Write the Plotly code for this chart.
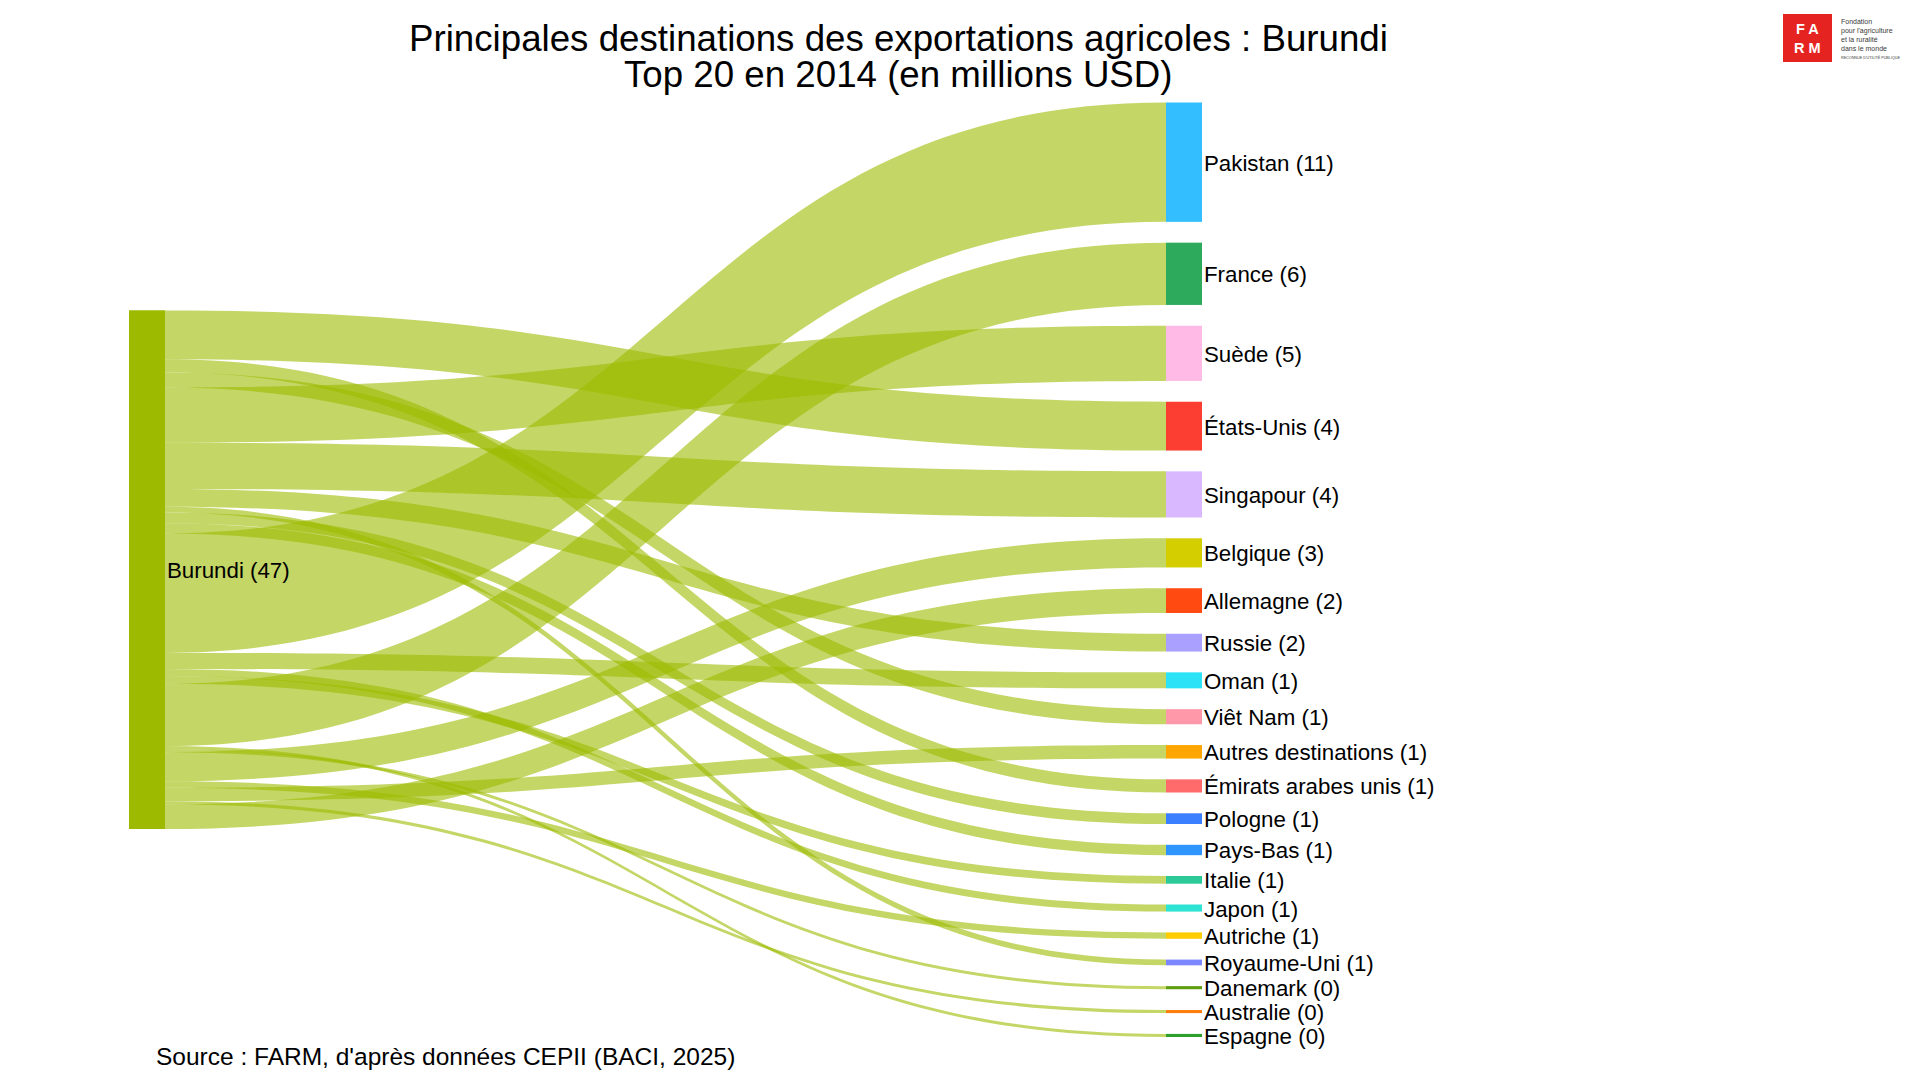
import plotly.graph_objects as go

# ---------------- data ----------------
source_label = "Burundi"
destinations = ["Pakistan", "France", "Suède", "États-Unis", "Singapour", "Belgique",
                "Allemagne", "Russie", "Oman", "Viêt Nam", "Autres destinations",
                "Émirats arabes unis", "Pologne", "Pays-Bas", "Italie", "Japon",
                "Autriche", "Royaume-Uni", "Danemark", "Australie", "Espagne"]
values = [10.81, 5.64, 5.00, 4.42, 4.18, 2.64, 2.24, 1.61, 1.45, 1.37, 1.22,
          1.19, 0.97, 0.94, 0.70, 0.64, 0.58, 0.52, 0.28, 0.28, 0.28]
node_colors = ["#33BFFF", "#2EAA5C", "#FFBBE5", "#FC3D32", "#DAB8FF", "#D4CD00",
               "#FF4A12", "#A9A0FF", "#2BE2F6", "#FF99AA", "#FFA500", "#FF6B6B",
               "#3A7FFF", "#2E95FF", "#2DC997", "#2DE3D3", "#FFCC00", "#7B86FF",
               "#5D9E0E", "#FF7F0E", "#2CA02C"]
source_color = "#9DBA00"
link_color = "rgba(157,186,0,0.6)"
title_line1 = "Principales destinations des exportations agricoles : Burundi"
title_line2 = "Top 20 en 2014 (en millions USD)"
source_note = "Source : FARM, d'après données CEPII (BACI, 2025)"
logo_letters = ["F", "A", "R", "M"]
logo_lines = ["Fondation", "pour l'agriculture", "et la ruralité", "dans le monde"]
logo_tagline = "RECONNUE D'UTILITÉ PUBLIQUE"

# order in which the flows leave the source bar (top to bottom)
stack_order = sorted(range(len(destinations)), key=lambda i: destinations[i], reverse=True)


def r(v):
    return int(v + 0.5)


# ---------------- geometry (screen pixels; page has an 8px body margin) ----------------
W, H = 1920, 1080
OFF = 8


def px(sx):
    return (sx - OFF) / W


def py(sy):
    return 1 - (sy - OFF) / H


dom_top, dom_bottom = 102.5, 1037.0
pad = 20.8
thickness = 36
src_cx, dst_cx = 147, 1184
dom_h = dom_bottom - dom_top
total = sum(values)
n = len(values)
ky = (dom_h - (n - 1) * pad) / total

dst_centres = []
yy = 0.0
for v in values:
    h = v * ky
    dst_centres.append(yy + h / 2)
    yy += h + pad

src_top = dom_h / 2 - total * ky / 2
src_centres = []
yy = src_top
for i in stack_order:
    h = values[i] * ky
    src_centres.append(yy + h / 2)
    yy += h

labels, colors, xs, ys, cdata = [], [], [], [], []
for k, i in enumerate(stack_order):
    labels.append("")
    colors.append(source_color)
    xs.append((src_cx - OFF) / W)
    ys.append(src_centres[k] / dom_h)
    cdata.append(f"{source_label} ({r(total)})")
for i in range(n):
    labels.append("")
    colors.append(node_colors[i])
    xs.append((dst_cx - OFF) / W)
    ys.append(dst_centres[i] / dom_h)
    cdata.append(f"{destinations[i]} ({r(values[i])})")

src = list(range(n))
tgt = [n + i for i in stack_order]
val = [values[i] for i in stack_order]

fig = go.Figure(go.Sankey(
    domain=dict(x=[0, 1], y=[py(dom_bottom), py(dom_top)]),
    arrangement="fixed",
    node=dict(label=labels, color=colors, x=xs, y=ys, pad=pad, thickness=thickness,
              line=dict(width=0), customdata=cdata,
              hovertemplate="%{customdata}<extra></extra>"),
    link=dict(source=src, target=tgt, value=val, color=link_color),
    textfont=dict(family="Arial, Liberation Sans, sans-serif", size=22, color="black"),
))

# solid source bar drawn over the stacked source segments (hides seams)
shapes = [dict(type="rect", xref="paper", yref="paper", layer="above",
               x0=px(src_cx - thickness / 2), x1=px(src_cx + thickness / 2),
               y0=py(dom_top + src_top + total * ky), y1=py(dom_top + src_top),
               fillcolor=source_color, line=dict(width=0))]

FONT = "Arial, Liberation Sans, sans-serif"
ann = []
for i in range(n):
    ann.append(dict(x=px(dst_cx + thickness / 2 - 0.5), y=py(dom_top + dst_centres[i] + 1),
                    xref="paper", yref="paper", xanchor="left", yanchor="middle",
                    text=f"{destinations[i]} ({r(values[i])})", showarrow=False,
                    font=dict(family=FONT, size=22.3, color="black")))
ann.append(dict(x=px(src_cx + thickness / 2 - 0.5), y=py(dom_top + dom_h / 2 + 1),
                xref="paper", yref="paper", xanchor="left", yanchor="middle",
                text=f"{source_label} ({r(total)})", showarrow=False,
                font=dict(family=FONT, size=22.3, color="black")))
for txt, cy in [(title_line1, 38), (title_line2, 74.7)]:
    ann.append(dict(x=px(898), y=py(cy), xref="paper", yref="paper", xanchor="center",
                    yanchor="middle", text=txt, showarrow=False, borderpad=0,
                    font=dict(family=FONT, size=36.7, color="black")))
ann.append(dict(x=px(154), y=py(1056), xref="paper", yref="paper", xanchor="left",
                yanchor="middle", text=source_note, showarrow=False,
                font=dict(family=FONT, size=24.5, color="black")))

# FARM logo
logo_red = "#E52421"
shapes.append(dict(type="rect", xref="paper", yref="paper", x0=px(1783), x1=px(1832),
                   y0=py(62), y1=py(14), fillcolor=logo_red, line=dict(width=0)))
ann.append(dict(x=px(1807.5), y=py(38.5), xref="paper", yref="paper", xanchor="center",
                yanchor="middle", showarrow=False, borderpad=0, align="center",
                text="<b>" + " ".join(logo_letters[:2]) + "<br>" + " ".join(logo_letters[2:]) + "</b>",
                font=dict(family="Arial, sans-serif", size=14.5, color="white")))
ann.append(dict(x=px(1840), y=py(35.2), xref="paper", yref="paper", xanchor="left",
                yanchor="middle", text="<br>".join(logo_lines), showarrow=False,
                borderpad=0, align="left",
                font=dict(family=FONT, size=7.0, color="#3a3a3a")))
ann.append(dict(x=px(1840), y=py(57.9), xref="paper", yref="paper", xanchor="left",
                yanchor="middle", text=logo_tagline, showarrow=False, borderpad=0,
                font=dict(family=FONT, size=3.7, color="#3a3a3a")))

fig.update_layout(width=W, height=H, margin=dict(l=0, r=0, t=0, b=0),
                  paper_bgcolor="white", plot_bgcolor="white",
                  annotations=ann, shapes=shapes)
fig.write_html("out.html")
